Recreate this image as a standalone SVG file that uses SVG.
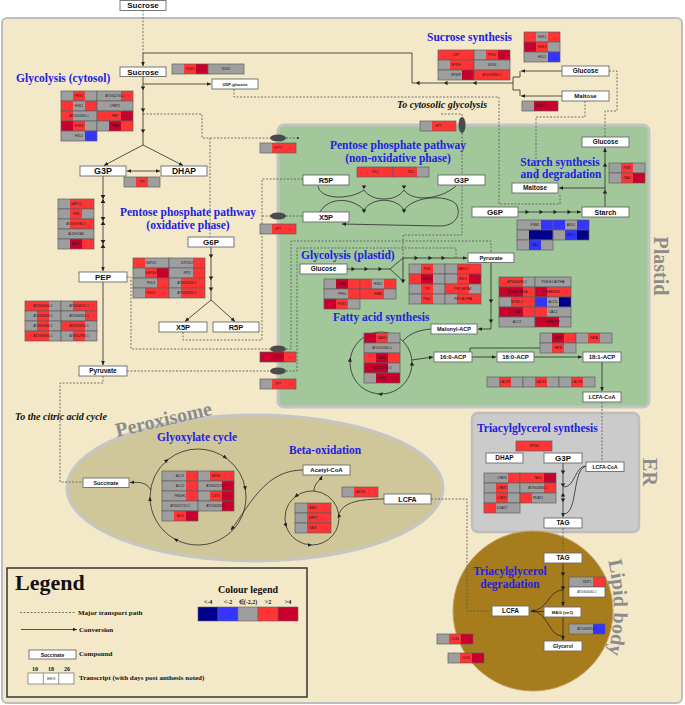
<svg xmlns="http://www.w3.org/2000/svg" width="685" height="705" viewBox="0 0 685 705">
<style>
.cg{fill:#9e9e9e}.cr{fill:#ff3434}.cc{fill:#c8002c}.cb{fill:#3434ff}.cn{fill:#00008c}.cw{fill:#fff}
.gene text{font-family:"Liberation Sans",Arial,sans-serif;font-size:3.2px;text-anchor:middle;fill:#1a1a1a}
.box rect{fill:#fff;stroke:#6a6a6a;stroke-width:0.9}
.box text{font-family:"Liberation Sans",Arial,sans-serif;font-weight:bold;font-size:6.5px;text-anchor:middle;fill:#111}
.t{font-family:"Liberation Serif","Times New Roman",serif;font-weight:bold;font-size:11.5px;fill:#2222e0}
.ti{font-family:"Liberation Serif","Times New Roman",serif;font-weight:bold;font-style:italic;font-size:10px;fill:#111}
.big{font-family:"Liberation Serif","Times New Roman",serif;font-weight:bold;font-size:20px;fill:#8c8c8c}
.lg{font-family:"Liberation Serif","Times New Roman",serif;font-weight:bold;fill:#111}
.ln{fill:none;stroke:#2b2b2b;stroke-width:0.8}
.ds{fill:none;stroke:#555;stroke-width:0.8;stroke-dasharray:2 1.5}
.hd{fill:#222}
.tp{fill:#4a4a4a}
</style>
<defs>
<rect id="k" width="12" height="10"/>
<rect id="o" width="36" height="10" fill="none" stroke="#5e5e5e" stroke-width="0.7"/>
<path id="dn" d="M-2.3,-3.5 L2.3,-3.5 L0,0 z"/>
<path id="up" d="M-2.3,3.5 L2.3,3.5 L0,0 z"/>
<path id="rt" d="M-3.5,-2.3 L-3.5,2.3 L0,0 z"/>
<path id="lf" d="M3.5,-2.3 L3.5,2.3 L0,0 z"/>
<path id="hg" d="M-2.4,-4 L2.4,-4 L0,0 z M-2.4,4 L2.4,4 L0,0 z"/>
<path id="lbpath" d="M606,553 A197,197 0 0 1 606,662"/>
<marker id="ar" viewBox="0 0 8 8" refX="7.5" refY="4" markerWidth="4.5" markerHeight="4.5" markerUnits="userSpaceOnUse" orient="auto-start-reverse"><path d="M0,0.6 L8,4 L0,7.4 z" fill="#222"/></marker>
</defs>
<rect width="685" height="705" fill="#fff"/>
<g id="compartments">
<rect x="2" y="18" width="680" height="685" rx="5" fill="#f3e8c7" stroke="#bdbdbd" stroke-width="2"/>
<rect x="278" y="125" width="371" height="282" rx="6" fill="#a1c79a" stroke="#c4c4c4" stroke-width="3"/>
<rect x="472" y="413" width="167" height="119" rx="6" fill="#cbcbcb" stroke="#bdbdbd" stroke-width="2.5"/>
<ellipse cx="255" cy="488" rx="188" ry="73" fill="#cfc799" stroke="#c6c6c6" stroke-width="3"/>
<circle cx="533" cy="611" r="80" fill="#a67c1c" stroke="#c2a060" stroke-width="1"/>
<text class="big" transform="translate(654,266) rotate(90)" text-anchor="middle">Plastid</text>
<text class="big" transform="translate(643,472) rotate(90)" text-anchor="middle">ER</text>
<text class="big" transform="translate(117,437) rotate(-13)">Peroxisome</text>
<text class="big" text-anchor="middle"><textPath href="#lbpath" startOffset="50%">Lipid body</textPath></text>
</g>
<g id="titles">
<text class="t" x="16" y="82">Glycolysis (cytosol)</text>
<text class="t" x="427" y="41">Sucrose synthesis</text>
<text class="ti" x="397" y="108">To cytosolic glycolysis</text>
<text class="t" x="398" y="149" text-anchor="middle">Pentose phosphate pathway</text>
<text class="t" x="398" y="162" text-anchor="middle">(non-oxidative phase)</text>
<text class="t" x="560" y="166" text-anchor="middle">Starch synthesis</text>
<text class="t" x="561" y="178" text-anchor="middle">and degradation</text>
<text class="t" x="188" y="216" text-anchor="middle">Pentose phosphate pathway</text>
<text class="t" x="188" y="229" text-anchor="middle">(oxidative phase)</text>
<text class="t" x="301" y="259">Glycolysis (plastid)</text>
<text class="t" x="333" y="321">Fatty acid synthesis</text>
<text class="t" x="477" y="432">Triacylglycerol synthesis</text>
<text class="t" x="157" y="441">Glyoxylate cycle</text>
<text class="t" x="289" y="454">Beta-oxidation</text>
<text class="t" x="510" y="575" text-anchor="middle">Triacylglycerol</text>
<text class="t" x="510" y="588" text-anchor="middle">degradation</text>
<text class="ti" x="15" y="420">To the citric acid cycle</text>
</g>
<g id="connectors">
<path class="ds" d="M143,10 V53"/>
<path class="ds" d="M234,89 V97 H499 V204 H560 V193"/>
<path class="ds" d="M585,101 V117 H536 V183"/>
<path class="ds" d="M609,71 H617 V111 H605 V137"/>
<path class="ds" d="M441,114 H462 V117"/>
<path class="ds" d="M462,133 V235 H403 V258"/>
<path class="ds" d="M143,114 H202 V138 H270 M286,138 H298"/>
<circle cx="298" cy="138" r="1.1" fill="#333"/>
<path class="ds" d="M210,138 V237"/>
<path class="ds" d="M183,332 V340 H262 V179 H303"/>
<path class="ds" d="M262,216 H270 M286,216 H303"/>
<path class="ds" d="M127,277 H131 V349 H270 M286,349 H291 V241 H491 V253"/>
<path class="ds" d="M127,371 H270 M286,371 H297 V248 H456 V257"/>
<path class="ds" d="M103,376 V383 H60 V482 H83"/>
<path class="ds" d="M602,402 V462"/>
<path class="ds" d="M563,528 V553"/>
<path class="ds" d="M431,499 H467 V611 H492"/>
<ellipse class="tp" cx="278" cy="138" rx="8" ry="3.5"/>
<ellipse class="tp" cx="462" cy="125" rx="3.5" ry="8"/>
<ellipse class="tp" cx="278" cy="216" rx="8" ry="3.5"/>
<ellipse class="tp" cx="278" cy="349" rx="8" ry="3.5"/>
<ellipse class="tp" cx="278" cy="371" rx="8" ry="3.5"/>
<path class="ln" d="M513,83 H412 V53 H143 V66" marker-end="url(#ar)"/>
<path class="ln" d="M562,71 H521" marker-end="url(#ar)"/>
<path class="ln" d="M562,96 H521" marker-end="url(#ar)"/>
<path class="ln" d="M520,71 V77 H513 V90 H520 V96"/>
<path class="ln" d="M143,76.5 V145"/>
<path class="ln" d="M143,84 H211" marker-end="url(#ar)"/>
<path class="ln" d="M143,145 L104,165.5" marker-end="url(#ar)"/>
<path class="ln" d="M143,145 L183,165.5" marker-end="url(#ar)"/>
<path class="ln" d="M127,171 H160" marker-start="url(#ar)" marker-end="url(#ar)"/>
<path class="ln" d="M103,176 V271" marker-end="url(#ar)"/>
<path class="ln" d="M103,282 V365" marker-end="url(#ar)"/>
<path class="ln" d="M211,247 V300"/>
<path class="ln" d="M211,300 L185,321.5" marker-end="url(#ar)"/>
<path class="ln" d="M211,300 L235,321.5" marker-end="url(#ar)"/>
<path class="ln" d="M605,207 V148" marker-end="url(#ar)"/>
<path class="ln" d="M605,188 H559" marker-end="url(#ar)"/>
<path class="ln" d="M518,212 H581" marker-end="url(#ar)"/>
<path class="ln" d="M318,186 C320,200 350,200 364,190"/>
<path class="ln" d="M364,190 C372,202 396,202 404,190"/>
<path class="ln" d="M404,190 C412,202 440,200 456,186"/>
<path class="ln" d="M320,212 C328,197 352,197 364,210"/>
<path class="ln" d="M364,210 C372,197 396,197 404,210"/>
<path class="ln" d="M404,210 C414,196 446,194 456,204 C462,214 456,226 440,226 L342,224" marker-end="url(#ar)"/>
<path class="ln" d="M347,269 H390 L403,258 M390,269 L403,281 M403,258 V283"/>
<path class="ln" d="M403,258 H467" marker-end="url(#ar)"/>
<path class="ln" d="M491,262 V329 H478" marker-end="url(#ar)"/>
<path class="ln" d="M431,329 C418,330 409,334 403,341"/>
<path class="ln" d="M375.6,332.5 A31,31 0 0 1 410.1,352.4"/>
<path class="ln" d="M410.1,352.4 A31,31 0 0 1 378.3,393.9" marker-end="url(#ar)"/>
<path class="ln" d="M378.3,393.9 A31,31 0 0 1 350.5,357.6" marker-end="url(#ar)"/>
<path class="ln" d="M350.5,357.6 A31,31 0 0 1 375.6,332.5"/>
<path class="ln" d="M412,360 L433,357" marker-end="url(#ar)"/>
<path class="ln" d="M472,357 H496" marker-end="url(#ar)"/>
<path class="ln" d="M470,352 V348 H540"/>
<path class="ln" d="M534,357 H582" marker-end="url(#ar)"/>
<path class="ln" d="M602,362 V391" marker-end="url(#ar)"/>
<path class="ln" d="M563,463 V517" marker-end="url(#ar)"/>
<path class="ln" d="M586,466 C575,466 575,487 564,487"/>
<path class="ln" d="M586,466 C572,470 578,513 564,514"/>
<path class="ln" d="M563,563 V606" marker-end="url(#ar)"/>
<path class="ln" d="M563,617 V640" marker-end="url(#ar)"/>
<path class="ln" d="M563,590 C548,590 548,611 531,611" marker-end="url(#ar)"/>
<path class="ln" d="M563,636 C548,636 548,611 531,611"/>
<path class="ln" d="M544,611.5 H531"/>
<path class="ln" d="M226.9,458.7 A48,48 0 0 1 245.5,490.3" marker-end="url(#ar)"/>
<path class="ln" d="M245.5,490.3 A48,48 0 0 1 174,538.6" marker-end="url(#ar)"/>
<path class="ln" d="M174,538.6 A48,48 0 0 1 150,497" marker-end="url(#ar)"/>
<path class="ln" d="M150,497 A48,48 0 0 1 168.4,459.2" marker-end="url(#ar)"/>
<path class="ln" d="M168.4,459.2 A48,48 0 0 1 226.9,458.7" marker-end="url(#ar)"/>
<path class="ln" d="M151,490 C146,482 140,482 130,482.5" marker-end="url(#ar)"/>
<path class="ln" d="M312,545 A27,27 0 0 0 338.6,513.3" marker-end="url(#ar)"/>
<path class="ln" d="M338.6,513.3 A27,27 0 0 0 294.6,497.3" marker-end="url(#ar)"/>
<path class="ln" d="M294.6,497.3 A27,27 0 0 0 286.6,527.2" marker-end="url(#ar)"/>
<path class="ln" d="M286.6,527.2 A27,27 0 0 0 312,545" marker-end="url(#ar)"/>
<path class="ln" d="M314,491 C314,483 320,481 322,476" marker-end="url(#ar)"/>
<path class="ln" d="M303,470 C265,470 250,505 231,530" marker-end="url(#ar)"/>
<path class="ln" d="M384,499 C360,499 344,502 339.5,513"/>
<g class="hd">
<use href="#lf" x="473" y="83"/><use href="#lf" x="444" y="83"/><use href="#lf" x="416" y="83"/>
<use href="#dn" x="143" y="90"/><use href="#dn" x="143" y="112"/><use href="#dn" x="143" y="133"/>
<use href="#hg" x="103" y="199"/><use href="#hg" x="103" y="221"/><use href="#hg" x="103" y="244"/>
<use href="#dn" x="211" y="258"/><use href="#dn" x="211" y="280"/><use href="#dn" x="211" y="291"/>
<use href="#up" x="605" y="163"/><use href="#up" x="605" y="190"/>
<use href="#rt" x="529" y="212"/><use href="#rt" x="543" y="212"/><use href="#rt" x="557" y="212"/><use href="#rt" x="571" y="212"/>
<use href="#dn" x="364" y="189"/><use href="#dn" x="404" y="189"/><use href="#dn" x="364" y="213"/><use href="#dn" x="404" y="213"/>
<use href="#rt" x="355" y="269"/><use href="#rt" x="368" y="269"/><use href="#rt" x="382" y="269"/>
<use href="#dn" x="403" y="283"/>
<use href="#rt" x="418" y="258"/><use href="#rt" x="432" y="258"/><use href="#rt" x="445" y="258"/>
<use href="#dn" x="491" y="303"/><use href="#dn" x="491" y="323"/>
<use href="#up" x="412" y="362"/>
<use href="#dn" x="563" y="474"/><use href="#dn" x="563" y="487"/><use href="#up" x="563" y="493"/><use href="#dn" x="563" y="502"/>
<use href="#dn" x="563" y="576"/><use href="#dn" x="563" y="590"/>
</g>
</g>
<g id="compounds">
<g id="c-suc0" class="box"><rect x="120" y="0.5" width="46" height="10"/><text x="143" y="8.4" style="font-size:8px">Sucrose</text></g>
<g id="c-suc1" class="box"><rect x="120" y="67" width="46" height="9.5"/><text x="143" y="74.6" style="font-size:8px">Sucrose</text></g>
<g id="c-udpg" class="box"><rect x="212" y="79" width="46" height="10"/><text x="235" y="85.5" style="font-size:4px">UDP-glucose</text></g>
<g id="c-g3p-c" class="box"><rect x="80" y="166" width="46" height="10"/><text x="103" y="174.2" style="font-size:9px">G3P</text></g>
<g id="c-dhap-c" class="box"><rect x="161" y="166" width="46" height="10"/><text x="184" y="174.1" style="font-size:8.5px">DHAP</text></g>
<g id="c-pep" class="box"><rect x="79" y="272" width="48" height="10"/><text x="103" y="279.9" style="font-size:8px">PEP</text></g>
<g id="c-pyr-c" class="box"><rect x="79" y="366" width="48" height="10"/><text x="103" y="373.3" style="font-size:6.5px">Pyruvate</text></g>
<g id="c-g6p-c" class="box"><rect x="188" y="237" width="46" height="10"/><text x="211" y="244.9" style="font-size:8px">G6P</text></g>
<g id="c-x5p-c" class="box"><rect x="159" y="322" width="48" height="10"/><text x="183" y="329.7" style="font-size:7.5px">X5P</text></g>
<g id="c-r5p-c" class="box"><rect x="213" y="322" width="46" height="10"/><text x="236" y="329.7" style="font-size:7.5px">R5P</text></g>
<g id="c-glc-c" class="box"><rect x="562" y="66" width="47" height="10"/><text x="585.5" y="73.3">Glucose</text></g>
<g id="c-mal-c" class="box"><rect x="562" y="91" width="47" height="10"/><text x="585.5" y="98.2" style="font-size:6px">Maltose</text></g>
<g id="c-glc-p1" class="box"><rect x="582" y="137" width="47" height="10"/><text x="605.5" y="144.3">Glucose</text></g>
<g id="c-mal-p" class="box"><rect x="512" y="183" width="46" height="10"/><text x="535" y="190.3">Maltose</text></g>
<g id="c-g6p-p" class="box"><rect x="472" y="207" width="46" height="10"/><text x="495" y="214.9" style="font-size:8px">G6P</text></g>
<g id="c-starch" class="box"><rect x="582" y="207" width="47" height="10"/><text x="605.5" y="214.5" style="font-size:7px">Starch</text></g>
<g id="c-r5p-p" class="box"><rect x="303" y="175" width="46" height="10"/><text x="326" y="182.7" style="font-size:7.5px">R5P</text></g>
<g id="c-x5p-p" class="box"><rect x="303" y="212" width="46" height="10"/><text x="326" y="219.7" style="font-size:7.5px">X5P</text></g>
<g id="c-g3p-p" class="box"><rect x="438" y="175" width="47" height="10"/><text x="461.5" y="182.7" style="font-size:7.5px">G3P</text></g>
<g id="c-glc-p2" class="box"><rect x="300" y="264" width="47" height="10"/><text x="323.5" y="271.3">Glucose</text></g>
<g id="c-pyr-p" class="box"><rect x="468" y="253" width="46" height="9.5"/><text x="491" y="259.7" style="font-size:5.5px">Pyruvate</text></g>
<g id="c-malacp" class="box"><rect x="431" y="324" width="46" height="10"/><text x="454" y="331" style="font-size:5.5px">Malonyl-ACP</text></g>
<g id="c-16acp" class="box"><rect x="434" y="352" width="38" height="10"/><text x="453" y="359.2" style="font-size:6px">16:0-ACP</text></g>
<g id="c-18acp" class="box"><rect x="497" y="352" width="37" height="10"/><text x="515.5" y="359.2" style="font-size:6px">18:0-ACP</text></g>
<g id="c-181acp" class="box"><rect x="583" y="352" width="38" height="10"/><text x="602" y="359.2" style="font-size:6px">18:1-ACP</text></g>
<g id="c-lcfacoa-p" class="box"><rect x="583" y="392" width="38" height="10"/><text x="602" y="398.9" style="font-size:5.3px">LCFA-CoA</text></g>
<g id="c-lcfacoa-er" class="box"><rect x="586" y="462" width="38" height="9.5"/><text x="605" y="468.5" style="font-size:5px">LCFA-CoA</text></g>
<g id="c-dhap-er" class="box"><rect x="486" y="453" width="37" height="10"/><text x="504.5" y="460.3">DHAP</text></g>
<g id="c-g3p-er" class="box"><rect x="544" y="453" width="38" height="10"/><text x="563" y="460.9" style="font-size:8px">G3P</text></g>
<g id="c-tag-er" class="box"><rect x="544" y="518" width="38" height="10"/><text x="563" y="525.3">TAG</text></g>
<g id="c-tag-l" class="box"><rect x="544" y="553" width="38" height="10"/><text x="563" y="560.3">TAG</text></g>
<g id="c-mag" class="box"><rect x="544" y="607" width="37" height="10"/><text x="562.5" y="613.5" style="font-size:4.3px">MAG (sn1)</text></g>
<g id="c-glycerol" class="box"><rect x="544" y="641" width="38" height="10"/><text x="563" y="647.8" style="font-size:5px">Glycerol</text></g>
<g id="c-lcfa-l" class="box"><rect x="492" y="606" width="37" height="10"/><text x="510.5" y="613.3">LCFA</text></g>
<g id="c-lcfa-x" class="box"><rect x="384" y="494" width="47" height="10"/><text x="407.5" y="501.5" style="font-size:7px">LCFA</text></g>
<g id="c-acetyl" class="box"><rect x="303" y="465" width="47" height="10"/><text x="326.5" y="472.2" style="font-size:6px">Acetyl-CoA</text></g>
<g id="c-succ" class="box"><rect x="83" y="478" width="46" height="9.5"/><text x="106" y="484.7" style="font-size:5.3px">Succinate</text></g>
</g>
<g id="genes" class="gene">
<g id="t-sus">
<g transform="translate(172,64)"><use href="#k" class="cg"/><use href="#k" class="cr" x="12"/><use href="#k" class="cc" x="24"/><use href="#o"/><text x="18" y="6.2">SUS3</text></g>
<g transform="translate(208,64)"><use href="#k" class="cg"/><use href="#k" class="cg" x="12"/><use href="#k" class="cg" x="24"/><use href="#o"/><text x="18" y="6.2">SUS1</text></g>
</g>
<g id="t-glyc-cyt">
<g transform="translate(61,91)"><use href="#k" class="cg"/><use href="#k" class="cr" x="12"/><use href="#k" class="cg" x="24"/><use href="#o"/><text x="18" y="6.2">FRK1</text></g>
<g transform="translate(97,91)"><use href="#k" class="cg"/><use href="#k" class="cg" x="12"/><use href="#k" class="cr" x="24"/><use href="#o"/><text x="18" y="6.2">AT5G42740.1</text></g>
<g transform="translate(61,101)"><use href="#k" class="cr"/><use href="#k" class="cg" x="12"/><use href="#k" class="cr" x="24"/><use href="#o"/><text x="18" y="6.2">HXK1</text></g>
<g transform="translate(97,101)"><use href="#k" class="cg"/><use href="#k" class="cg" x="12"/><use href="#k" class="cg" x="24"/><use href="#o"/><text x="18" y="6.2">CFBP1</text></g>
<g transform="translate(61,111)"><use href="#k" class="cr"/><use href="#k" class="cg" x="12"/><use href="#k" class="cg" x="24"/><use href="#o"/><text x="18" y="6.2">AT1G50390.1</text></g>
<g transform="translate(97,111)"><use href="#k" class="cr"/><use href="#k" class="cr" x="12"/><use href="#k" class="cc" x="24"/><use href="#o"/><text x="18" y="6.2">FBP</text></g>
<g transform="translate(61,121)"><use href="#k" class="cc"/><use href="#k" class="cr" x="12"/><use href="#k" class="cg" x="24"/><use href="#o"/><text x="18" y="6.2">HXK3</text></g>
<g transform="translate(97,121)"><use href="#k" class="cg"/><use href="#k" class="cc" x="12"/><use href="#k" class="cr" x="24"/><use href="#o"/><text x="18" y="6.2">FBA6</text></g>
<g transform="translate(61,131)"><use href="#k" class="cg"/><use href="#k" class="cg" x="12"/><use href="#k" class="cb" x="24"/><use href="#o"/><text x="18" y="6.2">HXL1</text></g>
</g>
<g id="t-tpi"><g transform="translate(124,177)"><use href="#k" class="cg"/><use href="#k" class="cr" x="12"/><use href="#k" class="cg" x="24"/><use href="#o"/><text x="18" y="6.2">TPI</text></g></g>
<g id="t-glyc-cyt2">
<g transform="translate(58,199)"><use href="#k" class="cg"/><use href="#k" class="cr" x="12"/><use href="#k" class="cr" x="24"/><use href="#o"/><text x="18" y="6.2">GAPC1</text></g>
<g transform="translate(58,209)"><use href="#k" class="cg"/><use href="#k" class="cr" x="12"/><use href="#k" class="cg" x="24"/><use href="#o"/><text x="18" y="6.2">PGK</text></g>
<g transform="translate(58,219)"><use href="#k" class="cg"/><use href="#k" class="cr" x="12"/><use href="#k" class="cr" x="24"/><use href="#o"/><text x="18" y="6.2">AT1G09780.1</text></g>
<g transform="translate(58,229)"><use href="#k" class="cg"/><use href="#k" class="cg" x="12"/><use href="#k" class="cg" x="24"/><use href="#o"/><text x="18" y="6.2">ALDH11A3</text></g>
<g transform="translate(58,239)"><use href="#k" class="cg"/><use href="#k" class="cc" x="12"/><use href="#k" class="cr" x="24"/><use href="#o"/><text x="18" y="6.2">ENO2</text></g>
</g>
<g id="t-pk">
<g transform="translate(25,301)"><use href="#k" class="cr"/><use href="#k" class="cr" x="12"/><use href="#k" class="cg" x="24"/><use href="#o"/><text x="18" y="6.2">AT3G04050.1</text></g>
<g transform="translate(61,301)"><use href="#k" class="cg"/><use href="#k" class="cr" x="12"/><use href="#k" class="cr" x="24"/><use href="#o"/><text x="18" y="6.2">AT5G08570.1</text></g>
<g transform="translate(25,311)"><use href="#k" class="cg"/><use href="#k" class="cr" x="12"/><use href="#k" class="cg" x="24"/><use href="#o"/><text x="18" y="6.2">AT4G26390.1</text></g>
<g transform="translate(61,311)"><use href="#k" class="cg"/><use href="#k" class="cg" x="12"/><use href="#k" class="cr" x="24"/><use href="#o"/><text x="18" y="6.2">AT5G56350.1</text></g>
<g transform="translate(25,321)"><use href="#k" class="cg"/><use href="#k" class="cr" x="12"/><use href="#k" class="cg" x="24"/><use href="#o"/><text x="18" y="6.2">AT3G25960.1</text></g>
<g transform="translate(61,321)"><use href="#k" class="cr"/><use href="#k" class="cr" x="12"/><use href="#k" class="cg" x="24"/><use href="#o"/><text x="18" y="6.2">AT3G55810.1</text></g>
<g transform="translate(25,331)"><use href="#k" class="cr"/><use href="#k" class="cr" x="12"/><use href="#k" class="cg" x="24"/><use href="#o"/><text x="18" y="6.2">AT2G36580.1</text></g>
<g transform="translate(61,331)"><use href="#k" class="cg"/><use href="#k" class="cr" x="12"/><use href="#k" class="cg" x="24"/><use href="#o"/><text x="18" y="6.2">AT3G52990.1</text></g>
</g>
<g id="t-opp">
<g transform="translate(133,258)"><use href="#k" class="cr"/><use href="#k" class="cg" x="12"/><use href="#k" class="cg" x="24"/><use href="#o"/><text x="18" y="6.2">G6PD2</text></g>
<g transform="translate(169,258)"><use href="#k" class="cg"/><use href="#k" class="cg" x="12"/><use href="#k" class="cr" x="24"/><use href="#o"/><text x="18" y="6.2">DRT102</text></g>
<g transform="translate(133,268)"><use href="#k" class="cg"/><use href="#k" class="cr" x="12"/><use href="#k" class="cc" x="24"/><use href="#o"/><text x="18" y="6.2">G6PD6</text></g>
<g transform="translate(169,268)"><use href="#k" class="cg"/><use href="#k" class="cg" x="12"/><use href="#k" class="cr" x="24"/><use href="#o"/><text x="18" y="6.2">RPI2</text></g>
<g transform="translate(133,278)"><use href="#k" class="cg"/><use href="#k" class="cg" x="12"/><use href="#k" class="cr" x="24"/><use href="#o"/><text x="18" y="6.2">PGL3</text></g>
<g transform="translate(169,278)"><use href="#k" class="cg"/><use href="#k" class="cr" x="12"/><use href="#k" class="cr" x="24"/><use href="#o"/><text x="18" y="6.2">AT5G24400.1</text></g>
<g transform="translate(133,288)"><use href="#k" class="cg"/><use href="#k" class="cr" x="12"/><use href="#k" class="cr" x="24"/><use href="#o"/><text x="18" y="6.2">PGD1</text></g>
<g transform="translate(169,288)"><use href="#k" class="cg"/><use href="#k" class="cr" x="12"/><use href="#k" class="cr" x="24"/><use href="#o"/><text x="18" y="6.2">AT1G63290.1</text></g>
</g>
<g id="t-sucsyn">
<g transform="translate(438,50)"><use href="#k" class="cr"/><use href="#k" class="cr" x="12"/><use href="#k" class="cr" x="24"/><use href="#o"/><text x="18" y="6.2">USP</text></g>
<g transform="translate(474,50)"><use href="#k" class="cg"/><use href="#k" class="cr" x="12"/><use href="#k" class="cc" x="24"/><use href="#o"/><text x="18" y="6.2">PHS2</text></g>
<g transform="translate(438,60)"><use href="#k" class="cg"/><use href="#k" class="cr" x="12"/><use href="#k" class="cr" x="24"/><use href="#o"/><text x="18" y="6.2">SPS1F</text></g>
<g transform="translate(474,60)"><use href="#k" class="cg"/><use href="#k" class="cg" x="12"/><use href="#k" class="cg" x="24"/><use href="#o"/><text x="18" y="6.2">SUS4</text></g>
<g transform="translate(438,70)"><use href="#k" class="cg"/><use href="#k" class="cg" x="12"/><use href="#k" class="cc" x="24"/><use href="#o"/><text x="18" y="6.2">SPS2F</text></g>
<g transform="translate(474,70)"><use href="#k" class="cr"/><use href="#k" class="cr" x="12"/><use href="#k" class="cr" x="24"/><use href="#o"/><text x="18" y="6.2">AT5G20830.1</text></g>
</g>
<g id="t-hxk">
<g transform="translate(524,32)"><use href="#k" class="cr"/><use href="#k" class="cg" x="12"/><use href="#k" class="cr" x="24"/><use href="#o"/><text x="18" y="6.2">HXK1</text></g>
<g transform="translate(524,42)"><use href="#k" class="cc"/><use href="#k" class="cr" x="12"/><use href="#k" class="cg" x="24"/><use href="#o"/><text x="18" y="6.2">HXK3</text></g>
<g transform="translate(524,52)"><use href="#k" class="cg"/><use href="#k" class="cg" x="12"/><use href="#k" class="cb" x="24"/><use href="#o"/><text x="18" y="6.2">HXL1</text></g>
</g>
<g id="t-dpe2"><g transform="translate(522,101)"><use href="#k" class="cg"/><use href="#k" class="cc" x="12"/><use href="#k" class="cc" x="24"/><use href="#o"/><text x="18" y="6.2">DPE2</text></g></g>
<g id="t-xpt1"><g transform="translate(420,121)"><use href="#k" class="cg"/><use href="#k" class="cr" x="12"/><use href="#k" class="cr" x="24"/><use href="#o"/><text x="18" y="6.2">xPT</text></g></g>
<g id="t-gpt1"><g transform="translate(260,143)"><use href="#k" class="cg"/><use href="#k" class="cr" x="12"/><use href="#k" class="cr" x="24"/><use href="#o"/><text x="18" y="6.2">GPT1</text></g></g>
<g id="t-xpt2"><g transform="translate(260,224)"><use href="#k" class="cg"/><use href="#k" class="cr" x="12"/><use href="#k" class="cr" x="24"/><use href="#o"/><text x="18" y="6.2">xPT</text></g></g>
<g id="t-ppt1"><g transform="translate(260,352)"><use href="#k" class="cc"/><use href="#k" class="cc" x="12"/><use href="#k" class="cr" x="24"/><use href="#o"/><text x="18" y="6.2">PPT1</text></g></g>
<g id="t-tpt"><g transform="translate(260,379)"><use href="#k" class="cg"/><use href="#k" class="cr" x="12"/><use href="#k" class="cr" x="24"/><use href="#o"/><text x="18" y="6.2">TPT</text></g></g>
<g id="t-tkl">
<g transform="translate(357,167)"><use href="#k" class="cr"/><use href="#k" class="cr" x="12"/><use href="#k" class="cr" x="24"/><use href="#o"/><text x="18" y="6.2">TKL2</text></g>
<g transform="translate(393,167)"><use href="#k" class="cr"/><use href="#k" class="cr" x="12"/><use href="#k" class="cg" x="24"/><use href="#o"/><text x="18" y="6.2">TKL1</text></g>
</g>
<g id="t-pwd">
<g transform="translate(609,163)"><use href="#k" class="cg"/><use href="#k" class="cr" x="12"/><use href="#k" class="cg" x="24"/><use href="#o"/><text x="18" y="6.2">PWD</text></g>
<g transform="translate(609,173)"><use href="#k" class="cg"/><use href="#k" class="cr" x="12"/><use href="#k" class="cc" x="24"/><use href="#o"/><text x="18" y="6.2">ISA3</text></g>
</g>
<g id="t-starch">
<g transform="translate(517,220)"><use href="#k" class="cg"/><use href="#k" class="cg" x="12"/><use href="#k" class="cb" x="24"/><use href="#o"/><text x="18" y="6.2">PGM1</text></g>
<g transform="translate(553,220)"><use href="#k" class="cb"/><use href="#k" class="cg" x="12"/><use href="#k" class="cb" x="24"/><use href="#o"/><text x="18" y="6.2">ADG1</text></g>
<g transform="translate(517,230)"><use href="#k" class="cg"/><use href="#k" class="cn" x="12"/><use href="#k" class="cn" x="24"/><use href="#o"/><text x="18" y="6.2">APL3</text></g>
<g transform="translate(553,230)"><use href="#k" class="cg"/><use href="#k" class="cb" x="12"/><use href="#k" class="cn" x="24"/><use href="#o"/><text x="18" y="6.2">APL4</text></g>
<g transform="translate(517,240)"><use href="#k" class="cg"/><use href="#k" class="cb" x="12"/><use href="#k" class="cg" x="24"/><use href="#o"/><text x="18" y="6.2">ISA1</text></g>
</g>
<g id="t-glyc-p1">
<g transform="translate(324,279)"><use href="#k" class="cg"/><use href="#k" class="cc" x="12"/><use href="#k" class="cr" x="24"/><use href="#o"/><text x="18" y="6.2">FBA5</text></g>
<g transform="translate(360,279)"><use href="#k" class="cr"/><use href="#k" class="cg" x="12"/><use href="#k" class="cr" x="24"/><use href="#o"/><text x="18" y="6.2">HXK2</text></g>
<g transform="translate(324,289)"><use href="#k" class="cg"/><use href="#k" class="cg" x="12"/><use href="#k" class="cr" x="24"/><use href="#o"/><text x="18" y="6.2">PFK4</text></g>
<g transform="translate(360,289)"><use href="#k" class="cr"/><use href="#k" class="cr" x="12"/><use href="#k" class="cg" x="24"/><use href="#o"/><text x="18" y="6.2">FBA8</text></g>
<g transform="translate(324,299)"><use href="#k" class="cc"/><use href="#k" class="cr" x="12"/><use href="#k" class="cg" x="24"/><use href="#o"/><text x="18" y="6.2">HXK3</text></g>
</g>
<g id="t-glyc-p2">
<g transform="translate(409,264)"><use href="#k" class="cg"/><use href="#k" class="cr" x="12"/><use href="#k" class="cg" x="24"/><use href="#o"/><text x="18" y="6.2">PGK</text></g>
<g transform="translate(445,264)"><use href="#k" class="cg"/><use href="#k" class="cr" x="12"/><use href="#k" class="cr" x="24"/><use href="#o"/><text x="18" y="6.2">GAPC1</text></g>
<g transform="translate(409,274)"><use href="#k" class="cr"/><use href="#k" class="cc" x="12"/><use href="#k" class="cg" x="24"/><use href="#o"/><text x="18" y="6.2">ENOC</text></g>
<g transform="translate(445,274)"><use href="#k" class="cg"/><use href="#k" class="cr" x="12"/><use href="#k" class="cc" x="24"/><use href="#o"/><text x="18" y="6.2">ENO1</text></g>
<g transform="translate(409,284)"><use href="#k" class="cg"/><use href="#k" class="cr" x="12"/><use href="#k" class="cg" x="24"/><use href="#o"/><text x="18" y="6.2">TPI</text></g>
<g transform="translate(445,284)"><use href="#k" class="cr"/><use href="#k" class="cr" x="12"/><use href="#k" class="cg" x="24"/><use href="#o"/><text x="18" y="6.2">PKP-BETA1</text></g>
<g transform="translate(409,294)"><use href="#k" class="cg"/><use href="#k" class="cr" x="12"/><use href="#k" class="cg" x="24"/><use href="#o"/><text x="18" y="6.2">PKp1</text></g>
<g transform="translate(445,294)"><use href="#k" class="cg"/><use href="#k" class="cr" x="12"/><use href="#k" class="cr" x="24"/><use href="#o"/><text x="18" y="6.2">PKP-ALPHA</text></g>
</g>
<g id="t-fa">
<g transform="translate(499,277)"><use href="#k" class="cr"/><use href="#k" class="cr" x="12"/><use href="#k" class="cg" x="24"/><use href="#o"/><text x="18" y="6.2">AT5G46290.1</text></g>
<g transform="translate(535,277)"><use href="#k" class="cg"/><use href="#k" class="cg" x="12"/><use href="#k" class="cg" x="24"/><use href="#o"/><text x="18" y="6.2">PDH-E1 ALPHA</text></g>
<g transform="translate(499,287)"><use href="#k" class="cc"/><use href="#k" class="cc" x="12"/><use href="#k" class="cr" x="24"/><use href="#o"/><text x="18" y="6.2">PDH-E1 BETA</text></g>
<g transform="translate(535,287)"><use href="#k" class="cc"/><use href="#k" class="cr" x="12"/><use href="#k" class="cr" x="24"/><use href="#o"/><text x="18" y="6.2">EMB3003</text></g>
<g transform="translate(499,297)"><use href="#k" class="cg"/><use href="#k" class="cr" x="12"/><use href="#k" class="cr" x="24"/><use href="#o"/><text x="18" y="6.2">MTKD-2</text></g>
<g transform="translate(535,297)"><use href="#k" class="cb"/><use href="#k" class="cg" x="12"/><use href="#k" class="cn" x="24"/><use href="#o"/><text x="18" y="6.2">ACCD</text></g>
<g transform="translate(499,307)"><use href="#k" class="cc"/><use href="#k" class="cc" x="12"/><use href="#k" class="cr" x="24"/><use href="#o"/><text x="18" y="6.2">LTA2</text></g>
<g transform="translate(535,307)"><use href="#k" class="cr"/><use href="#k" class="cg" x="12"/><use href="#k" class="cg" x="24"/><use href="#o"/><text x="18" y="6.2">CAC2</text></g>
<g transform="translate(499,317)"><use href="#k" class="cg"/><use href="#k" class="cg" x="12"/><use href="#k" class="cg" x="24"/><use href="#o"/><text x="18" y="6.2">ACC2</text></g>
<g transform="translate(535,317)"><use href="#k" class="cc"/><use href="#k" class="cc" x="12"/><use href="#k" class="cg" x="24"/><use href="#o"/><text x="18" y="6.2">EMB3147</text></g>
</g>
<g id="t-facyc">
<g transform="translate(364,333)"><use href="#k" class="cc"/><use href="#k" class="cr" x="12"/><use href="#k" class="cg" x="24"/><use href="#o"/><text x="18" y="6.2">KASIII</text></g>
<g transform="translate(364,343)"><use href="#k" class="cg"/><use href="#k" class="cg" x="12"/><use href="#k" class="cg" x="24"/><use href="#o"/><text x="18" y="6.2">AT5G10160.1</text></g>
<g transform="translate(364,353)"><use href="#k" class="cr"/><use href="#k" class="cc" x="12"/><use href="#k" class="cr" x="24"/><use href="#o"/><text x="18" y="6.2">KAS1</text></g>
<g transform="translate(364,363)"><use href="#k" class="cc"/><use href="#k" class="cc" x="12"/><use href="#k" class="cg" x="24"/><use href="#o"/><text x="18" y="6.2">AT1G62640.1</text></g>
<g transform="translate(364,373)"><use href="#k" class="cg"/><use href="#k" class="cc" x="12"/><use href="#k" class="cc" x="24"/><use href="#o"/><text x="18" y="6.2">FAB1</text></g>
</g>
<g id="t-fat">
<g transform="translate(540,333)"><use href="#k" class="cg"/><use href="#k" class="cc" x="12"/><use href="#k" class="cr" x="24"/><use href="#o"/><text x="18" y="6.2">SSI2</text></g>
<g transform="translate(576,333)"><use href="#k" class="cg"/><use href="#k" class="cr" x="12"/><use href="#k" class="cg" x="24"/><use href="#o"/><text x="18" y="6.2">FATA</text></g>
<g transform="translate(540,343)"><use href="#k" class="cg"/><use href="#k" class="cr" x="12"/><use href="#k" class="cg" x="24"/><use href="#o"/><text x="18" y="6.2">FATB</text></g>
</g>
<g id="t-lacs">
<g transform="translate(487,377)"><use href="#k" class="cg"/><use href="#k" class="cr" x="12"/><use href="#k" class="cg" x="24"/><use href="#o"/><text x="18" y="6.2">LACS9</text></g>
<g transform="translate(523,377)"><use href="#k" class="cg"/><use href="#k" class="cr" x="12"/><use href="#k" class="cg" x="24"/><use href="#o"/><text x="18" y="6.2">LACS1</text></g>
<g transform="translate(559,377)"><use href="#k" class="cg"/><use href="#k" class="cr" x="12"/><use href="#k" class="cg" x="24"/><use href="#o"/><text x="18" y="6.2">LACS8</text></g>
</g>
<g id="t-gpdh"><g transform="translate(516,441)"><use href="#k" class="cr"/><use href="#k" class="cr" x="12"/><use href="#k" class="cr" x="24"/><use href="#o"/><text x="18" y="6.2">GPDH</text></g></g>
<g id="t-tagsyn">
<g transform="translate(484,473)"><use href="#k" class="cg"/><use href="#k" class="cg" x="12"/><use href="#k" class="cr" x="24"/><use href="#o"/><text x="18" y="6.2">LPAT4</text></g>
<g transform="translate(520,473)"><use href="#k" class="cr"/><use href="#k" class="cr" x="12"/><use href="#k" class="cc" x="24"/><use href="#o"/><text x="18" y="6.2">TAG1</text></g>
<g transform="translate(484,483)"><use href="#k" class="cg"/><use href="#k" class="cr" x="12"/><use href="#k" class="cg" x="24"/><use href="#o"/><text x="18" y="6.2">LPAT5</text></g>
<g transform="translate(520,483)"><use href="#k" class="cg"/><use href="#k" class="cg" x="12"/><use href="#k" class="cr" x="24"/><use href="#o"/><text x="18" y="6.2">AT3G44830.1</text></g>
<g transform="translate(484,493)"><use href="#k" class="cg"/><use href="#k" class="cr" x="12"/><use href="#k" class="cg" x="24"/><use href="#o"/><text x="18" y="6.2">LPAT2</text></g>
<g transform="translate(520,493)"><use href="#k" class="cr"/><use href="#k" class="cg" x="12"/><use href="#k" class="cg" x="24"/><use href="#o"/><text x="18" y="6.2">PDAT1</text></g>
<g transform="translate(484,503)"><use href="#k" class="cr"/><use href="#k" class="cg" x="12"/><use href="#k" class="cg" x="24"/><use href="#o"/><text x="18" y="6.2">DGAT2</text></g>
</g>
<g id="t-glyox">
<g transform="translate(162,471)"><use href="#k" class="cg"/><use href="#k" class="cg" x="12"/><use href="#k" class="cr" x="24"/><use href="#o"/><text x="18" y="6.2">ACO1</text></g>
<g transform="translate(198,471)"><use href="#k" class="cg"/><use href="#k" class="cr" x="12"/><use href="#k" class="cr" x="24"/><use href="#o"/><text x="18" y="6.2">MDH1</text></g>
<g transform="translate(162,481)"><use href="#k" class="cg"/><use href="#k" class="cg" x="12"/><use href="#k" class="cr" x="24"/><use href="#o"/><text x="18" y="6.2">ACO2</text></g>
<g transform="translate(198,481)"><use href="#k" class="cg"/><use href="#k" class="cg" x="12"/><use href="#k" class="cc" x="24"/><use href="#o"/><text x="18" y="6.2">AT3G01170.1</text></g>
<g transform="translate(162,491)"><use href="#k" class="cg"/><use href="#k" class="cg" x="12"/><use href="#k" class="cr" x="24"/><use href="#o"/><text x="18" y="6.2">PMDH1</text></g>
<g transform="translate(198,491)"><use href="#k" class="cg"/><use href="#k" class="cr" x="12"/><use href="#k" class="cc" x="24"/><use href="#o"/><text x="18" y="6.2">CSY1</text></g>
<g transform="translate(162,501)"><use href="#k" class="cg"/><use href="#k" class="cg" x="12"/><use href="#k" class="cg" x="24"/><use href="#o"/><text x="18" y="6.2">AT3G21720.1</text></g>
<g transform="translate(198,501)"><use href="#k" class="cg"/><use href="#k" class="cg" x="12"/><use href="#k" class="cc" x="24"/><use href="#o"/><text x="18" y="6.2">AT2G44350.2</text></g>
<g transform="translate(162,511)"><use href="#k" class="cg"/><use href="#k" class="cr" x="12"/><use href="#k" class="cc" x="24"/><use href="#o"/><text x="18" y="6.2">MLS</text></g>
</g>
<g id="t-beta">
<g transform="translate(295,503)"><use href="#k" class="cg"/><use href="#k" class="cr" x="12"/><use href="#k" class="cr" x="24"/><use href="#o"/><text x="18" y="6.2">AIM1</text></g>
<g transform="translate(295,513)"><use href="#k" class="cg"/><use href="#k" class="cr" x="12"/><use href="#k" class="cr" x="24"/><use href="#o"/><text x="18" y="6.2">MFP2</text></g>
<g transform="translate(295,523)"><use href="#k" class="cg"/><use href="#k" class="cr" x="12"/><use href="#k" class="cr" x="24"/><use href="#o"/><text x="18" y="6.2">KAT5</text></g>
</g>
<g id="t-lacs6"><g transform="translate(342,487)"><use href="#k" class="cg"/><use href="#k" class="cr" x="12"/><use href="#k" class="cr" x="24"/><use href="#o"/><text x="18" y="6.2">LACS6</text></g></g>
<g id="t-sdp1">
<g transform="translate(569,577)"><use href="#k" class="cg"/><use href="#k" class="cg" x="12"/><use href="#k" class="cr" x="24"/><use href="#o"/><text x="18" y="6.2">SDP1</text></g>
<g transform="translate(569,587)"><use href="#k" class="cw"/><use href="#k" class="cw" x="12"/><use href="#k" class="cw" x="24"/><use href="#o"/><text x="18" y="6.2">AT5G04040.1</text></g>
</g>
<g id="t-at1g"><g transform="translate(569,624)"><use href="#k" class="cg"/><use href="#k" class="cg" x="12"/><use href="#k" class="cb" x="24"/><use href="#o"/><text x="18" y="6.2">AT1G08310.1</text></g></g>
<g id="t-ole">
<g transform="translate(437,634)"><use href="#k" class="cg"/><use href="#k" class="cr" x="12"/><use href="#k" class="cc" x="24"/><use href="#o"/><text x="18" y="6.2">OLE1</text></g>
<g transform="translate(448,653)"><use href="#k" class="cg"/><use href="#k" class="cr" x="12"/><use href="#k" class="cc" x="24"/><use href="#o"/><text x="18" y="6.2">OLE2</text></g>
</g>
</g>
<g id="legend">
<rect x="7" y="568" width="300" height="129" fill="#f3e8c7" stroke="#2a2a2a" stroke-width="1.4"/>
<text class="lg" x="15" y="590" font-size="22">Legend</text>
<path class="ds" d="M20,612.5 H75"/>
<text class="lg" x="78" y="615" font-size="7">Major transport path</text>
<path class="ln" d="M21,629.5 H77" marker-end="url(#ar)"/>
<text class="lg" x="79" y="632" font-size="7">Conversion</text>
<g class="box"><rect x="29" y="650" width="47" height="9"/><text x="52.5" y="656.8" style="font-size:5px">Succinate</text></g>
<text class="lg" x="79" y="656" font-size="7">Compound</text>
<g class="gene"><rect x="28" y="673" width="46" height="11" fill="#fff" stroke="#6a6a6a" stroke-width="0.7"/><path d="M43.3,673 V684 M58.7,673 V684" stroke="#6a6a6a" stroke-width="0.7"/><text x="51" y="679.5">SHO3</text></g>
<text class="lg" x="35" y="671" font-size="6" text-anchor="middle">10</text>
<text class="lg" x="51" y="671" font-size="6" text-anchor="middle">18</text>
<text class="lg" x="67" y="671" font-size="6" text-anchor="middle">26</text>
<text class="lg" x="79" y="680" font-size="7">Transcript (with days post anthesis noted)</text>
<text class="lg" x="218" y="593" font-size="10">Colour legend</text>
<g stroke="#666" stroke-width="0.6">
<rect x="198" y="607" width="20" height="14" fill="#00008c"/>
<rect x="218" y="607" width="20" height="14" fill="#3434ff"/>
<rect x="238" y="607" width="20" height="14" fill="#9e9e9e"/>
<rect x="258" y="607" width="20" height="14" fill="#ff3434"/>
<rect x="278" y="607" width="20" height="14" fill="#c8002c"/>
</g>
<g class="lg" font-size="6" text-anchor="middle">
<text x="208" y="604">&lt;-4</text><text x="228" y="604">&lt;-2</text><text x="248" y="604">∈(-2,2)</text><text x="268" y="604">&gt;2</text><text x="288" y="604">&gt;4</text>
</g>
</g>
</svg>
